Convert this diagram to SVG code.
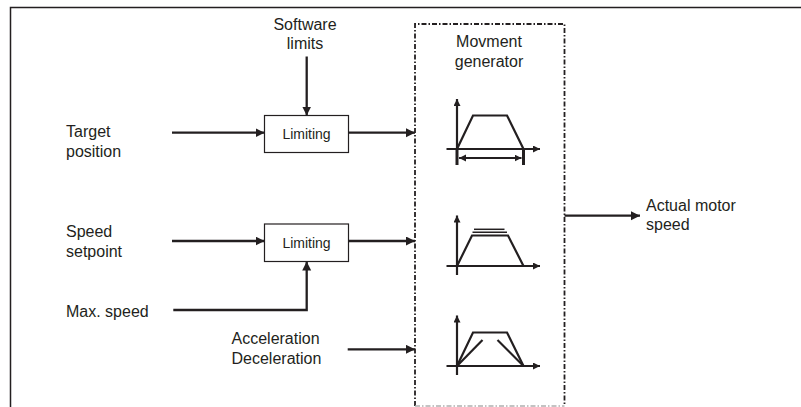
<svg xmlns="http://www.w3.org/2000/svg" width="801" height="407" viewBox="0 0 801 407">
<style>
text{font-family:"Liberation Sans",Arial,sans-serif;font-size:16px;fill:#231f20}
.sm{font-size:14px}
.box{fill:#fff;stroke:#231f20;stroke-width:1.2}
.ln{fill:none;stroke:#231f20;stroke-width:2.3}
.g{fill:none;stroke:#231f20;stroke-width:2.2;stroke-linejoin:miter}
.dd{fill:none;stroke:#231f20;stroke-width:1.8;stroke-dasharray:5 2 1.5 2}
</style>
<defs>
<marker id="ah" markerUnits="userSpaceOnUse" markerWidth="10" markerHeight="10" refX="9" refY="4.5" orient="auto">
<path d="M0,0 L9,4.5 L0,9 Z" fill="#231f20"/>
</marker>
<marker id="as" markerUnits="userSpaceOnUse" markerWidth="8" markerHeight="8" refX="7" refY="3.5" orient="auto-start-reverse">
<path d="M0,0 L7,3.5 L0,7 Z" fill="#231f20"/>
</marker>
</defs>
<polyline points="10.5,407 10.5,7.5 801,7.5" fill="none" stroke="#231f20" stroke-width="1.5"/>

<g id="target-position"><text x="66" y="136.5">Target</text><text x="66" y="156.5">position</text></g>
<g id="software-limits"><text x="305" y="29.5" text-anchor="middle">Software</text><text x="305" y="48.5" text-anchor="middle">limits</text></g>
<g id="limiting-1"><rect class="box" x="264.5" y="115.5" width="84" height="37"/><text class="sm" x="306.5" y="138.5" text-anchor="middle">Limiting</text></g>
<g id="speed-setpoint"><text x="66" y="237">Speed</text><text x="66" y="257">setpoint</text></g>
<g id="limiting-2"><rect class="box" x="264.5" y="224" width="84" height="37.5"/><text class="sm" x="306.5" y="247.5" text-anchor="middle">Limiting</text></g>
<g id="max-speed"><text x="66" y="317">Max. speed</text></g>
<g id="acceleration"><text x="231.5" y="343.5">Acceleration</text><text x="231.5" y="363.5">Deceleration</text></g>
<g id="actual-motor-speed"><text x="646" y="210.5">Actual motor</text><text x="646" y="230">speed</text></g>

<g id="movement-generator">
<path class="dd" d="M415,406 L415,24 L564.5,24 L564.5,406"/>
<path d="M415,406 L564.5,406" fill="none" stroke="#b0b0b0" stroke-width="1.5" stroke-dasharray="5 2 1.5 2"/>
<text x="489" y="46.5" text-anchor="middle">Movment</text>
<text x="489" y="66.5" text-anchor="middle">generator</text>
<!-- graph 1 -->
<line class="g" x1="457" y1="149" x2="457" y2="99" marker-end="url(#as)"/>
<line class="g" x1="446.5" y1="149" x2="540" y2="149" marker-end="url(#as)"/>
<polyline class="g" points="457,149 473,115.5 507,115.5 523.5,149"/>
<line x1="457" y1="149" x2="457" y2="165" stroke="#231f20" stroke-width="3"/>
<line x1="523.5" y1="149" x2="523.5" y2="165" stroke="#231f20" stroke-width="3"/>
<line class="g" x1="459" y1="158" x2="521.5" y2="158" marker-start="url(#as)" marker-end="url(#as)"/>
<!-- graph 2 -->
<line class="g" x1="457" y1="275" x2="457" y2="215.5" marker-end="url(#as)"/>
<line class="g" x1="446.5" y1="266" x2="540" y2="266" marker-end="url(#as)"/>
<polyline class="g" points="457,266 472,235.5 508,235.5 523.5,266"/>
<line x1="472.5" y1="232.3" x2="507" y2="232.3" stroke="#231f20" stroke-width="1.5"/>
<line x1="474" y1="229.3" x2="504.5" y2="229.3" stroke="#231f20" stroke-width="1.5"/>
<!-- graph 3 -->
<line class="g" x1="457" y1="375" x2="457" y2="315.5" marker-end="url(#as)"/>
<line class="g" x1="446.5" y1="366" x2="540" y2="366" marker-end="url(#as)"/>
<polyline class="g" points="457,366 473,332.5 507,332.5 523.5,366"/>
<line class="g" x1="457" y1="366" x2="482.5" y2="340"/>
<line class="g" x1="497.5" y1="340" x2="523.5" y2="366"/>
</g>

<g id="connectors">
<line class="ln" x1="172" y1="132.7" x2="264.5" y2="132.7" marker-end="url(#ah)"/>
<line class="ln" x1="306.7" y1="56.5" x2="306.7" y2="115.5" marker-end="url(#ah)"/>
<line class="ln" x1="348.5" y1="132.7" x2="415" y2="132.7" marker-end="url(#ah)"/>
<line class="ln" x1="172" y1="241" x2="264.5" y2="241" marker-end="url(#ah)"/>
<line class="ln" x1="348.5" y1="241" x2="415" y2="241" marker-end="url(#ah)"/>
<polyline class="ln" points="173.3,310 306.7,310 306.7,261.5" marker-end="url(#ah)"/>
<line class="ln" x1="347.7" y1="349.3" x2="415" y2="349.3" marker-end="url(#ah)"/>
<line class="ln" x1="564.5" y1="215.7" x2="640" y2="215.7" marker-end="url(#ah)"/>
</g>
</svg>
